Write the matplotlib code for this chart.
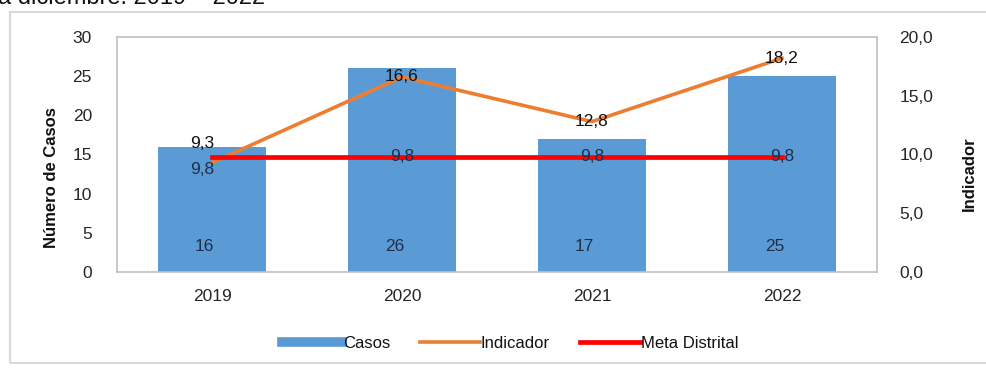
import matplotlib
matplotlib.use("Agg")
import matplotlib.pyplot as plt
from matplotlib.patches import Rectangle
from matplotlib.lines import Line2D

plt.rcParams['font.family'] = ['Liberation Sans', 'DejaVu Sans']

years = ["2019", "2020", "2021", "2022"]
casos = [16, 26, 17, 25]
indicador = [9.3, 16.6, 12.8, 18.2]
meta = [9.8, 9.8, 9.8, 9.8]

def fmt(v):
    return f"{v:.1f}".replace(".", ",")

BLUE = "#5B9BD5"
ORANGE = "#ED7D31"
RED = "#FF0000"
GRID = "#BFBFBF"
TXT = "#262626"
FS = 12.5

fig = plt.figure(figsize=(9.87, 3.71), dpi=100)

# outer panel border
fig.patches.append(Rectangle((10 / 987, 8 / 371), 1.2, 351 / 371, transform=fig.transFigure,
                             fill=False, edgecolor="#D9D9D9", linewidth=1.5))

# caption fragment at the very top
fig.text(-0.002, 1 - 4 / 371, "a diciembre. 2019 \u2013 2022", fontsize=17,
         color="#111111", va="baseline", ha="left")

ax = fig.add_axes([117 / 987, 1 - 272 / 371, 760 / 987, 235 / 371])
x = list(range(len(years)))
ax.bar(x, casos, width=0.57, color=BLUE, zorder=2, label="Casos")
ax.set_xlim(-0.5, len(years) - 0.5)
ax.set_ylim(0, 30)
ax.set_yticks(range(0, 31, 5))
ax.set_xticks(x)
ax.set_xticklabels(years)
ax.tick_params(axis="both", length=0, labelsize=FS, colors=TXT)
ax.tick_params(axis="y", pad=18)
ax.tick_params(axis="x", pad=12)
for s in ax.spines.values():
    s.set_color(GRID)
    s.set_linewidth(1.2)
ax.set_ylabel("Número de Casos", fontsize=12, fontweight="bold", color="#111111")
ax.yaxis.set_label_coords(-0.076, 0.40)

for xi, v in zip(x, casos):
    ax.text(xi - 0.04, 3.3, str(v), ha="center", va="center", fontsize=FS, color="#1F2F4A", zorder=5)

ax2 = ax.twinx()
ax2.set_ylim(0, 20)
ax2.set_yticks(range(0, 21, 5))
ax2.set_yticklabels([fmt(v) for v in range(0, 21, 5)])
ax2.tick_params(axis="y", length=0, labelsize=FS, colors=TXT, pad=16)
for s in ax2.spines.values():
    s.set_visible(False)
ax2.set_ylabel("Indicador", fontsize=12, fontweight="bold", color="#111111")
ax2.yaxis.set_label_coords(1.112, 0.42)

ax2.plot(x, indicador, color=ORANGE, linewidth=2.6, zorder=3)
ax2.plot(x, meta, color=RED, linewidth=3.4, zorder=4)

for i, (xi, v) in enumerate(zip(x, indicador)):
    dy = 1.6 if i == 0 else 0
    ax2.text(xi - 0.05 if i == 0 else xi, v + dy, fmt(v), ha="center", va="center",
             fontsize=FS, color="#111111", zorder=6)
for i, (xi, v) in enumerate(zip(x, meta)):
    dy = -1.1 if i == 0 else 0
    ax2.text(xi - 0.05 if i == 0 else xi, v + dy, fmt(v), ha="center", va="center",
             fontsize=FS, color="#1F2F4A", zorder=6)

handles = [Line2D([0], [0], color=BLUE, linewidth=7),
           Line2D([0], [0], color=ORANGE, linewidth=2.6),
           Line2D([0], [0], color=RED, linewidth=3.4)]
fig.legend(handles, ["Casos", "Indicador", "Meta Distrital"], loc="center",
           bbox_to_anchor=(510 / 987, 1 - 343 / 371), ncol=3, frameon=False,
           fontsize=12, handlelength=3.6, handletextpad=0.05, columnspacing=1.8,
           labelcolor="#111111")

fig.savefig("out.png", dpi=100, facecolor="white")
